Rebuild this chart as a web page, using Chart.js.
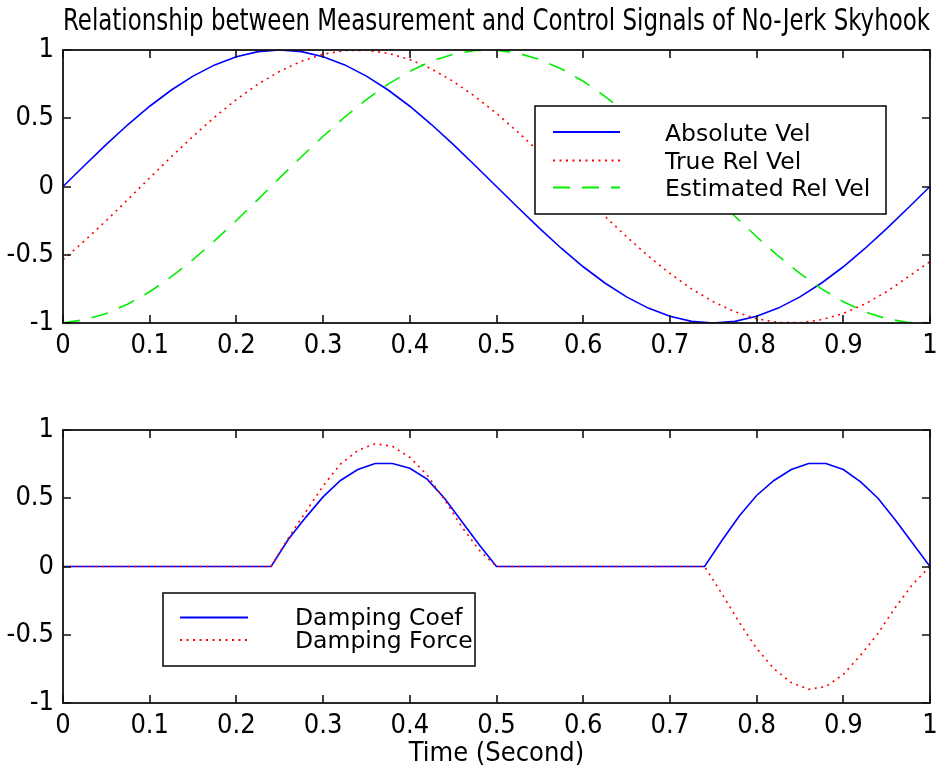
<!DOCTYPE html>
<html>
<head>
<meta charset="utf-8">
<script src="https://cdn.jsdelivr.net/npm/chart.js@4.4.1/dist/chart.umd.min.js"></script>
<style>
  html, body { margin: 0; padding: 0; background: #ffffff; }
  #wrap { position: relative; width: 937px; height: 773px; background: #ffffff; }
  canvas { position: absolute; left: 0; }
</style>
</head>
<body>
<div id="wrap">
  <canvas id="top" width="937" height="390" style="top:0px"></canvas>
  <canvas id="bot" width="937" height="383" style="top:390px"></canvas>
</div>
<script>
// ---------- data ----------
const chartTitle = 'Relationship between Measurement and Control Signals of No-Jerk Skyhook';
const xAxisTitle = 'Time (Second)';

const xTicks = [0, 0.1, 0.2, 0.3, 0.4, 0.5, 0.6, 0.7, 0.8, 0.9, 1];
const xTickLabels = ['0', '0.1', '0.2', '0.3', '0.4', '0.5', '0.6', '0.7', '0.8', '0.9', '1'];
const yTicks = [-1, -0.5, 0, 0.5, 1];
const yTickLabels = ['-1', '-0.5', '0', '0.5', '1'];

const topLabels = ['Absolute Vel', 'True Rel Vel', 'Estimated Rel Vel'];
const botLabels = ['Damping Coef', 'Damping Force'];

const timeTop = [0, 0.025, 0.05, 0.075, 0.1, 0.125, 0.15, 0.175, 0.2, 0.225, 0.25, 0.275, 0.3, 0.325, 0.35, 0.375, 0.4, 0.425, 0.45, 0.475, 0.5,
                 0.525, 0.55, 0.575, 0.6, 0.625, 0.65, 0.675, 0.7, 0.725, 0.75, 0.775, 0.8, 0.825, 0.85, 0.875, 0.9, 0.925, 0.95, 0.975, 1];
const absoluteVel = [0, 0.156, 0.309, 0.454, 0.588, 0.707, 0.809, 0.891, 0.951, 0.988, 1, 0.988, 0.951, 0.891, 0.809, 0.707, 0.588, 0.454, 0.309, 0.156, 0,
                     -0.156, -0.309, -0.454, -0.588, -0.707, -0.809, -0.891, -0.951, -0.988, -1, -0.988, -0.951, -0.891, -0.809, -0.707, -0.588, -0.454, -0.309, -0.156, 0];
const trueRelVel = [-0.536, -0.397, -0.249, -0.094, 0.063, 0.218, 0.368, 0.509, 0.637, 0.750, 0.844, 0.918, 0.969, 0.996, 0.998, 0.976, 0.930, 0.861, 0.771, 0.661, 0.536,
                    0.397, 0.249, 0.094, -0.063, -0.218, -0.368, -0.509, -0.637, -0.750, -0.844, -0.918, -0.969, -0.996, -0.998, -0.976, -0.930, -0.861, -0.771, -0.661, -0.550];
const estimatedRelVel = [-0.998, -0.976, -0.930, -0.861, -0.771, -0.661, -0.536, -0.397, -0.249, -0.094, 0.063, 0.218, 0.368, 0.509, 0.637, 0.750, 0.844, 0.918, 0.969, 0.996, 0.998,
                         0.976, 0.930, 0.861, 0.771, 0.661, 0.536, 0.397, 0.249, 0.094, -0.063, -0.218, -0.368, -0.509, -0.637, -0.750, -0.844, -0.918, -0.969, -0.996, -0.998];

const timeBot = [0, 0.24, 0.26, 0.28, 0.30, 0.32, 0.34, 0.36, 0.38, 0.40, 0.42, 0.44, 0.46, 0.48, 0.50,
                 0.74, 0.76, 0.78, 0.80, 0.82, 0.84, 0.86, 0.88, 0.90, 0.92, 0.94, 0.96, 0.98, 1.00];
const dampingCoef = [0, 0, 0.20, 0.36, 0.51, 0.63, 0.71, 0.755, 0.755, 0.72, 0.64, 0.50, 0.33, 0.16, 0,
                     0, 0.19, 0.37, 0.52, 0.63, 0.71, 0.755, 0.755, 0.71, 0.62, 0.50, 0.34, 0.17, 0];
const dampingForce = [0, 0, 0.21, 0.40, 0.59, 0.75, 0.85, 0.90, 0.88, 0.80, 0.67, 0.49, 0.29, 0.12, 0,
                      0, -0.20, -0.41, -0.60, -0.75, -0.85, -0.90, -0.88, -0.79, -0.65, -0.49, -0.30, -0.13, 0];

// ---------- styling ----------
const NARROW = "'DejaVu Sans Condensed', 'Liberation Sans Narrow', sans-serif";
const LEGEND_FONT = "'DejaVu Sans', sans-serif";
const BLUE = '#0000ff', RED = '#ff0000', GREEN = '#00ee00';

function pairs(xs, ys) { return xs.map((x, i) => ({ x: x, y: ys[i] })); }

// frame, inward ticks and legend box, MATLAB style
const matlabFrame = {
  id: 'matlabFrame',
  afterDatasetsDraw(chart, args, opts) {
    const ctx = chart.ctx, a = chart.chartArea, sx = chart.scales.x, sy = chart.scales.y;
    ctx.save();
    ctx.strokeStyle = '#111';
    ctx.lineWidth = 1.6;
    const L = 8;
    ctx.beginPath();
    sx.ticks.forEach(t => {
      const p = Math.round(sx.getPixelForValue(t.value));
      ctx.moveTo(p, a.bottom); ctx.lineTo(p, a.bottom - L);
      ctx.moveTo(p, a.top); ctx.lineTo(p, a.top + L);
    });
    sy.ticks.forEach(t => {
      const p = Math.round(sy.getPixelForValue(t.value));
      ctx.moveTo(a.left, p); ctx.lineTo(a.left + L, p);
      ctx.moveTo(a.right, p); ctx.lineTo(a.right - L, p);
    });
    ctx.stroke();
    ctx.lineWidth = 1.8;
    ctx.strokeRect(a.left, a.top, a.right - a.left, a.bottom - a.top);

    const lg = opts.legend;
    if (lg) {
      ctx.fillStyle = '#ffffff';
      ctx.fillRect(lg.x0, lg.y0, lg.x1 - lg.x0, lg.y1 - lg.y0);
      ctx.strokeStyle = '#111';
      ctx.lineWidth = 1.6;
      ctx.strokeRect(lg.x0, lg.y0, lg.x1 - lg.x0, lg.y1 - lg.y0);
      ctx.font = lg.font;
      ctx.textBaseline = 'alphabetic';
      ctx.textAlign = 'left';
      chart.data.datasets.forEach((ds, i) => {
        const ly = lg.lineY[i];
        ctx.save();
        ctx.strokeStyle = ds.borderColor;
        ctx.lineWidth = 1.8;
        ctx.setLineDash(ds.borderDash || []);
        ctx.beginPath();
        ctx.moveTo(lg.lx0, ly); ctx.lineTo(lg.lx1, ly);
        ctx.stroke();
        ctx.restore();
        ctx.fillStyle = '#000';
        ctx.fillText(ds.label, lg.tx, lg.textY[i]);
      });
    }
    ctx.restore();
  }
};

function scales(axisHeight, withTitle) {
  return {
    x: {
      type: 'linear', min: 0, max: 1,
      grid: { display: false, drawTicks: false },
      border: { display: false },
      afterBuildTicks(s) { s.ticks = xTicks.map(v => ({ value: v })); },
      afterFit(s) { s.height = axisHeight; s.paddingLeft = 0; s.paddingRight = 0; },
      ticks: {
        color: '#000', padding: 7, maxRotation: 0, autoSkip: false,
        font: { family: NARROW, size: 27 },
        callback: (v, i) => xTickLabels[i]
      },
      title: withTitle ? {
        display: true, text: xAxisTitle, color: '#000',
        font: { family: NARROW, size: 27 }, padding: { top: 0, bottom: 3 }
      } : { display: false }
    },
    y: {
      type: 'linear', min: -1, max: 1,
      grid: { display: false, drawTicks: false },
      border: { display: false },
      afterBuildTicks(s) { s.ticks = yTicks.map(v => ({ value: v })); },
      afterFit(s) { s.width = 63; s.paddingTop = 0; s.paddingBottom = 0; },
      ticks: {
        color: '#000', padding: 9,
        font: { family: NARROW, size: 27 },
        callback: (v, i) => yTickLabels[i]
      }
    }
  };
}

const common = {
  responsive: false, animation: false, devicePixelRatio: 1,
  elements: { point: { radius: 0 }, line: { tension: 0 } },
  events: []
};

new Chart(document.getElementById('top'), {
  type: 'line',
  data: {
    datasets: [
      { label: topLabels[0], data: pairs(timeTop, absoluteVel), borderColor: BLUE, borderWidth: 1.6, order: 3 },
      { label: topLabels[1], data: pairs(timeTop, trueRelVel), borderColor: RED, borderWidth: 1.6, borderDash: [2, 4.5], order: 2 },
      { label: topLabels[2], data: pairs(timeTop, estimatedRelVel), borderColor: GREEN, borderWidth: 1.6, borderDash: [17, 12], order: 1 }
    ]
  },
  options: Object.assign({}, common, {
    layout: { padding: { top: 0, right: 7, left: 0, bottom: 0 } },
    scales: scales(67, false),
    plugins: {
      legend: { display: false },
      tooltip: { enabled: false },
      title: {
        display: true, text: chartTitle, fullSize: false, color: '#000',
        font: { family: NARROW, size: 29.5, weight: 'normal' },
        padding: { top: 5, bottom: 9.6 }
      },
      matlabFrame: {
        legend: {
          x0: 535, y0: 106, x1: 886, y1: 214,
          lx0: 553, lx1: 620, tx: 665,
          lineY: [132, 160.5, 187.5], textY: [140.5, 168.5, 196],
          font: '23.5px ' + LEGEND_FONT
        }
      }
    }
  }),
  plugins: [matlabFrame]
});

new Chart(document.getElementById('bot'), {
  type: 'line',
  data: {
    datasets: [
      { label: botLabels[0], data: pairs(timeBot, dampingCoef), borderColor: BLUE, borderWidth: 1.6, order: 2 },
      { label: botLabels[1], data: pairs(timeBot, dampingForce), borderColor: RED, borderWidth: 1.6, borderDash: [2, 4.5], order: 1 }
    ]
  },
  options: Object.assign({}, common, {
    layout: { padding: { top: 40, right: 7, left: 0, bottom: 0 } },
    scales: scales(70, true),
    plugins: {
      legend: { display: false },
      tooltip: { enabled: false },
      title: { display: false },
      matlabFrame: {
        legend: {
          x0: 163, y0: 203, x1: 475, y1: 276,
          lx0: 180, lx1: 248, tx: 295,
          lineY: [227.5, 250], textY: [235, 258],
          font: '23.5px ' + LEGEND_FONT
        }
      }
    }
  }),
  plugins: [matlabFrame]
});
</script>
</body>
</html>
